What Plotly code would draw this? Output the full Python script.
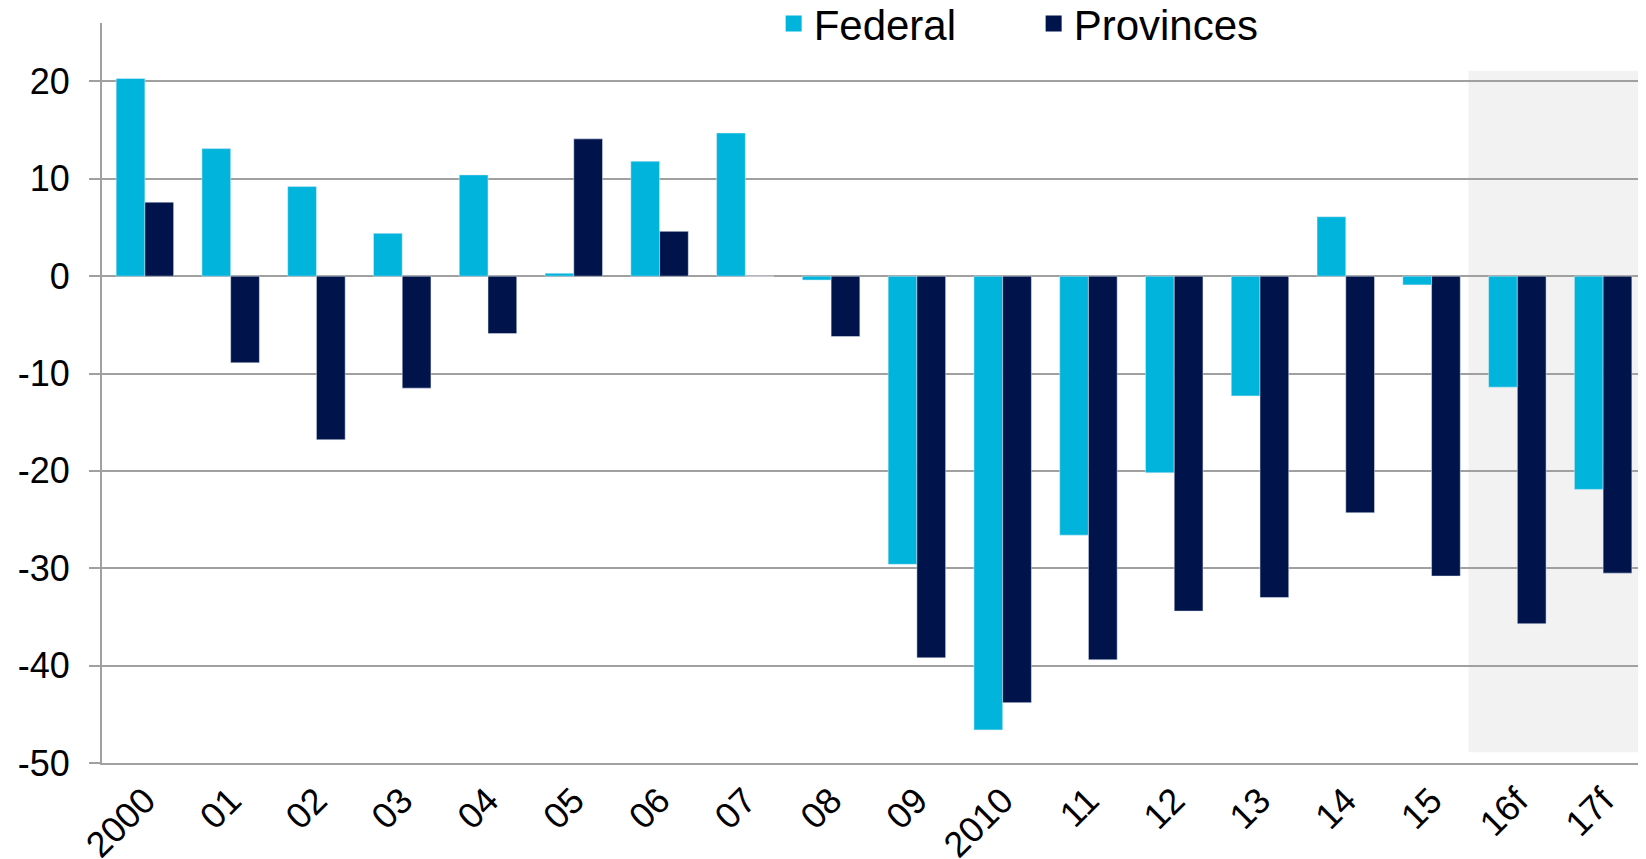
import plotly.graph_objects as go

years = ["2000", "01", "02", "03", "04", "05", "06", "07", "08", "09",
         "2010", "11", "12", "13", "14", "15", "16f", "17f"]
federal = [20.3, 13.1, 9.2, 4.4, 10.4, 0.3, 11.8, 14.7, -0.4, -29.6,
           -46.6, -26.6, -20.2, -12.3, 6.1, -0.9, -11.4, -21.9]
provinces = [7.6, -8.9, -16.8, -11.5, -5.9, 14.1, 4.6, 0.0, -6.2, -39.2,
             -43.8, -39.4, -34.4, -33.0, -24.3, -30.8, -35.7, -30.5]
y_ticks = [-50, -40, -30, -20, -10, 0, 10, 20]

CYAN = "#00B4DC"
NAVY = "#00144C"
GRID = "#A0A0A0"

fig = go.Figure()
fig.add_bar(x=years, y=federal, name="Federal", marker_color=CYAN, showlegend=False)
fig.add_bar(x=years, y=provinces, name="Provinces", marker_color=NAVY, showlegend=False)

# legend proxies (bar legend squares are too small)
for name, col in [("Federal", CYAN), ("Provinces", NAVY)]:
    fig.add_scatter(x=[None], y=[None], mode="markers", name=name,
                    marker=dict(symbol="square", size=16, color=col))

# forecast shading
fig.add_shape(type="rect", xref="x", yref="y", x0=15.43, x1=17.5, y0=-48.9, y1=21.1,
              fillcolor="#F2F2F2", line_width=0, layer="below")

# page body has an 8px margin, so the margins are shifted to compensate
fig.update_layout(
    width=1646, height=859,
    margin=dict(l=94, r=8, t=15, b=104, autoexpand=False),
    barmode="group", bargap=0.33, bargroupgap=0,
    plot_bgcolor="white", paper_bgcolor="white",
    font=dict(family="Liberation Sans, Arial, sans-serif", size=36, color="black"),
    legend=dict(orientation="h", x=0.435, xanchor="left", y=0.999, yanchor="middle",
                font=dict(size=42), entrywidth=215, bgcolor="rgba(0,0,0,0)"),
)
fig.update_xaxes(
    type="category", tickangle=-45, ticks="", showgrid=False,
    showline=True, linecolor=GRID, linewidth=2, ticklabelstandoff=0,
)
fig.update_yaxes(
    range=[-50, 26], tickvals=y_ticks, ticktext=[str(v) for v in y_ticks],
    showgrid=True, gridcolor=GRID, gridwidth=2, zeroline=False,
    showline=True, linecolor=GRID, linewidth=2,
    ticks="outside", ticklen=11, tickwidth=2, tickcolor=GRID, ticklabelstandoff=12,
)

fig.write_html("out.html")
